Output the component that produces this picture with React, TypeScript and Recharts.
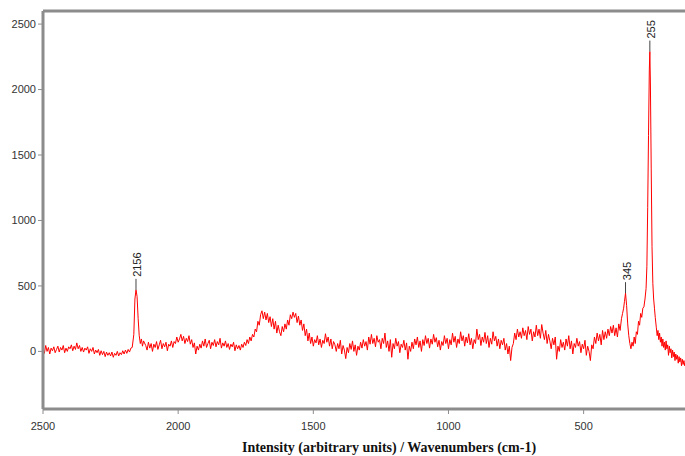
import { ComposedChart, Line, Scatter, XAxis, YAxis, Label, ReferenceLine } from "recharts";

// baseline 2500 -> 2170, every 5 cm-1
const leadStart = 2500;
const leadValues = [
  20, -15, 45, 0, 30, -20, 25, 5, 35, -10,
  15, 40, -5, 30, 10, 45, -10, 25, 0, 35,
  20, 50, 5, 40, 15, 65, 20, 45, 0, 30,
  -5, 25, 10, 35, -15, 20, 0, 30, -20, 10,
  -10, 15, -30, 5, -25, 0, -40, -5, -30, -10,
  -35, -5, -45, -15, -30, 0, -35, -10, -25, 5,
  -20, 10, -15, 15, -5, 25, 30,
];

// band around 2156
const peak2156: [number, number][] = [
  [2164, 130], [2160, 400], [2156, 470], [2152, 420], [2148, 250],
  [2144, 120], [2140, 60], [2136, 95], [2132, 40], [2128, 80],
];

// 2120 -> 390, every 5 cm-1
const midStart = 2120;
const midValues = [
  45, 10, 70, 25, 60, 0, 55, 30, 75, 15,
  50, 85, 20, 60, 35, 70, 5, 55, 40, 80,
  30, 75, 60, 110, 70, 95, 130, 80, 115, 60,
  100, 75, 120, 55, 90, 30, 65, -20, 40, 10,
  55, 25, 80, 40, 95, 30, 60, 85, 20, 70,
  45, 90, 35, 75, 50, 100, 25, 65, 40, 80,
  30, 60, 15, 55, 35, 70, 5, 50, 20, 45,
  10, 55, 30, 70, 45, 90, 60, 110, 80, 130,
  110, 170, 150, 230, 200, 280, 310, 250, 300, 240,
  290, 220, 265, 190, 250, 170, 230, 140, 200, 150,
  120, 190, 150, 210, 170, 240, 200, 280, 250, 300,
  260, 290, 220, 270, 200, 240, 160, 210, 120, 170,
  80, 140, 60, 110, 40, 90, 65, 120, 50, 95,
  30, 85, 60, 135, 70, 110, 40, 95, 20, 75,
  50, 0, 60, 20, 85, -20, 45, 10, -55, 30,
  -10, 60, 15, 80, 0, 50, -30, 40, 10, 70,
  25, 90, 40, 75, 10, 110, 55, 130, 60, 100,
  35, 120, 70, 90, 20, 100, 60, 140, 30, 80,
  0, 90, -45, 60, 20, 100, 40, 75, -10, 55,
  30, 85, 10, 65, -60, 40, 0, 70, 20, 95,
  50, 110, 30, 80, 0, 90, 45, 120, 60, 100,
  25, 95, 55, 130, 70, 105, 35, 85, 10, 75,
  45, 120, 60, 100, 20, 90, 50, 140, 70, 115,
  30, 95, 60, 150, 80, 120, 40, 110, 65, 135,
  50, 100, 20, 90, 60, 170, 90, 130, 45, 110,
  70, 145, 60, 120, 30, 100, 55, 150, 80, 115,
  40, 95, 20, 85, 50, 100, 10, 60, -20, 40,
  -70, 30, 60, 140, 90, 170, 110, 150, 100, 180,
  120, 160, 90, 190, 130, 170, 80, 150, 110, 200,
  120, 170, 100, 205, 140, 90, 160, 60, 130, 80,
  20, 100, 50, 110, -60, 40, 0, 90, 30, 70,
  10, 95, 40, 120, 20, 80, -20, 60, 30, 100,
  40, 75, -10, 55, 20, 85, -30, 40, 0, -70,
  50, 20, 110, 60, 140, 80, 130, 50, 160, 90,
  150, 100, 170, 120, 190, 140, 200,
];

// 385 -> 124, bands at 345 and 255
const tail: [number, number][] = [
  [385, 120], [380, 180], [375, 110], [370, 210], [365, 160], [360, 250],
  [356, 290], [352, 330], [349, 380], [345, 445], [341, 350], [337, 210],
  [333, 120], [329, 60], [325, 20], [321, 70], [317, 40], [313, 110],
  [309, 60], [305, 150], [301, 130], [297, 230], [293, 200], [289, 290],
  [285, 260], [281, 330], [277, 340], [273, 400], [269, 480], [266, 650],
  [263, 1100], [260, 1650], [257, 2150], [255, 2290], [253, 2050],
  [250, 1400], [247, 800], [244, 520], [241, 400], [238, 330], [235, 260],
  [231, 180], [228, 120], [225, 160], [222, 90], [219, 140], [216, 70],
  [213, 110], [210, 40], [207, 95], [204, 30], [201, 70], [198, 10],
  [195, 80], [192, 20], [189, 50], [186, -30], [183, 40], [180, -10],
  [177, 20], [174, -50], [171, 10], [168, -40], [165, -5], [162, -70],
  [159, -20], [156, -60], [153, -30], [150, -90], [147, -40], [144, -80],
  [141, -50], [138, -110], [135, -60], [132, -100], [129, -70], [126, -110],
  [124, -90],
];

const peakLabels = [2156, 345, 255];

const spectrum = [
  ...leadValues.map((v, i) => ({ wn: leadStart - i * 5, v })),
  ...peak2156.map(([wn, v]) => ({ wn, v })),
  ...midValues.map((v, i) => ({ wn: midStart - i * 5, v })),
  ...tail.map(([wn, v]) => ({ wn, v })),
];

const peaks = peakLabels.map((wn) => ({
  wn,
  v: spectrum.find((p) => p.wn === wn)?.v ?? 0,
}));

const AXIS = "#8c8c8c";
const tickStyle = { fill: "#333", fontSize: 11, fontFamily: "Arial, 'Liberation Sans', sans-serif" };

function PeakMark(props: any) {
  const { cx, cy, payload } = props;
  return (
    <g>
      <line x1={cx} y1={cy} x2={cx} y2={cy - 11} stroke="#444" strokeWidth={1} />
      <text
        transform={`translate(${cx + 5},${cy - 13}) rotate(-90)`}
        fontSize={11}
        fontFamily="Arial, 'Liberation Sans', sans-serif"
        fill="#222"
      >
        {payload.wn}
      </text>
    </g>
  );
}

export default function App() {
  return (
    <div style={{ position: "absolute", left: 0, top: 0, background: "#fff" }}>
      <ComposedChart
        width={685}
        height={456}
        data={spectrum}
        margin={{ top: 11, right: 0, bottom: 0, left: 0 }}
      >
        <XAxis
          dataKey="wn"
          type="number"
          domain={[125, 2500]}
          reversed
          allowDataOverflow
          ticks={[2500, 2000, 1500, 1000, 500]}
          height={47}
          tickSize={5}
          tickMargin={8}
          tick={tickStyle}
          tickLine={{ stroke: AXIS }}
          axisLine={{ stroke: AXIS, strokeWidth: 3 }}
        >
          <Label
            value="Intensity (arbitrary units) / Wavenumbers (cm-1)"
            position="insideBottom"
            offset={4}
            dx={25}
            style={{
              fontFamily: "'Times New Roman', 'Liberation Serif', serif",
              fontWeight: "bold",
              fontSize: 14,
              fill: "#111",
            }}
          />
        </XAxis>
        <YAxis
          type="number"
          domain={[-440, 2600]}
          allowDataOverflow
          ticks={[0, 500, 1000, 1500, 2000, 2500]}
          width={43}
          tickSize={5}
          tickMargin={2}
          tick={tickStyle}
          tickLine={{ stroke: AXIS }}
          axisLine={{ stroke: AXIS, strokeWidth: 3 }}
        />
        <ReferenceLine y={2600} stroke={AXIS} strokeWidth={3} />
        <Line
          type="linear"
          dataKey="v"
          stroke="#ff0000"
          strokeWidth={1}
          dot={false}
          isAnimationActive={false}
        />
        <Scatter data={peaks} dataKey="v" shape={PeakMark} isAnimationActive={false} />
      </ComposedChart>
    </div>
  );
}
